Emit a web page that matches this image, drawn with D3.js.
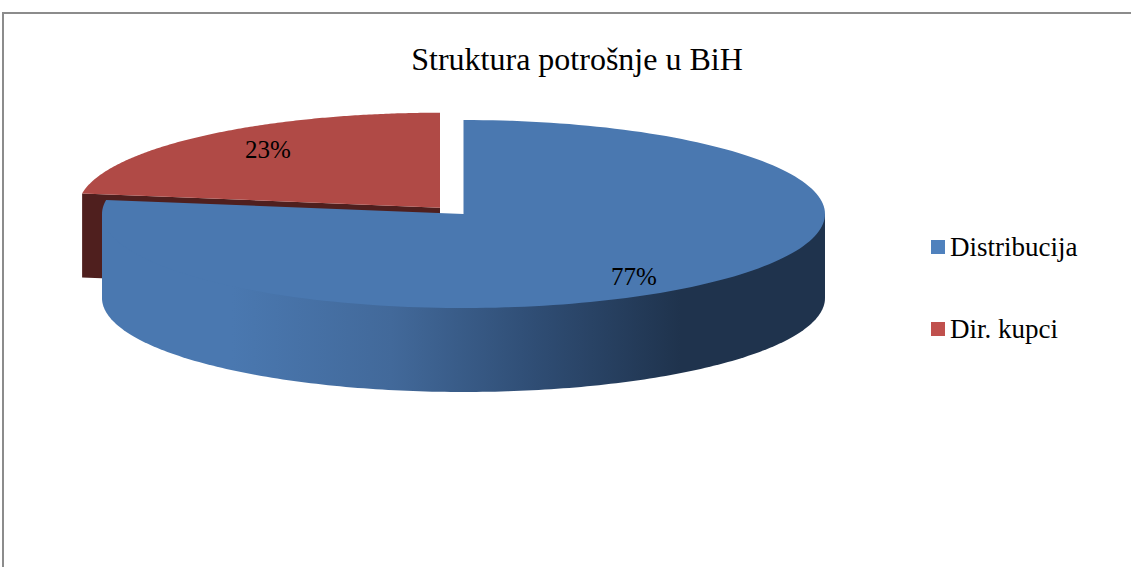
<!DOCTYPE html>
<html><head><meta charset="utf-8">
<script src="https://cdn.jsdelivr.net/npm/d3@7"></script>
<style>html,body{margin:0;padding:0;background:#fff}svg{display:block}text{font-family:"Liberation Serif","Times New Roman",serif;fill:#000}</style>
</head><body>
<script>
const title = "Struktura potrošnje u BiH";
const categories = ["Distribucija", "Dir. kupci"];
const shares = [77.4, 22.6];
const labels = ["77%", "23%"];
const topColors = ["#4a78b0", "#b04a46"];
const legendColors = ["#4f81bd", "#c0504d"];

const W = 1131, H = 567;
const svg = d3.select("body").append("svg").attr("width", W).attr("height", H);

// frame
svg.append("path").attr("d", d3.line()([[3,567],[3,13],[1131,13]]))
  .attr("fill","none").attr("stroke","#8c8c8c").attr("stroke-width",2);

const defs = svg.append("defs");
const grad = defs.append("linearGradient").attr("id","side").attr("gradientUnits","userSpaceOnUse")
  .attr("x1",102).attr("x2",825).attr("y1",0).attr("y2",0);
[[0,"#4a78b0"],[0.18,"#4a78b0"],[0.4,"#42699a"],[0.6,"#2f4d74"],[0.8,"#1f334d"],[1,"#1f334d"]]
  .forEach(s=>grad.append("stop").attr("offset",s[0]).attr("stop-color",s[1]));

const pie = d3.pie().sort(null).value(d=>d);
const arcs = pie(shares);

const rx = [361.5, 362], ry = [94, 95], depth = 84;
const xS = d3.scaleLinear().domain([-1,1]);
const yS = d3.scaleLinear().domain([-1,1]);
const centers = [[463.5,214],[440,207.7]];
function project(i, a, dz=0){
  xS.range([centers[i][0]-rx[i], centers[i][0]+rx[i]]);
  yS.range([centers[i][1]-ry[i], centers[i][1]+ry[i]]);
  return [xS(Math.sin(a)), yS(-Math.cos(a))+dz];
}
function rim(i,a0,a1,dz=0){
  const n = 180;
  return d3.range(n+1).map(k=>project(i,a0+(a1-a0)*k/n,dz));
}
const line = d3.line();

// red slice (behind)
{
  const a = arcs[1], i = 1;
  const c0 = centers[i];
  const L = project(i,a.startAngle);
  svg.append("path").attr("fill","#4f1f1e")
    .attr("d", line([c0,L,[L[0],L[1]+depth],[c0[0],c0[1]+depth]])+"Z");
  svg.append("path").attr("fill",topColors[1])
    .attr("d", line([c0,...rim(i,a.startAngle,a.endAngle)])+"Z");
}
// blue slice: the wall runs up under the top face, so no seam shows along the rim
{
  const a = arcs[0], i = 0;
  const c0 = centers[i];
  const sidePts = [c0, project(i,Math.PI/2), ...rim(i,Math.PI/2,Math.PI*1.5,depth), project(i,Math.PI*1.5)];
  svg.append("path").attr("fill","url(#side)").attr("d", line(sidePts)+"Z");
  svg.append("path").attr("fill",topColors[0])
    .attr("d", line([c0,...rim(i,a.startAngle,a.endAngle)])+"Z");
}

// labels
svg.append("text").attr("x",577).attr("y",70).attr("text-anchor","middle").attr("font-size",32).text(title);
svg.append("text").attr("x",634).attr("y",285).attr("text-anchor","middle").attr("font-size",25).text(labels[0]);
svg.append("text").attr("x",268).attr("y",158).attr("text-anchor","middle").attr("font-size",25).text(labels[1]);

// legend
const legendY = d3.scalePoint().domain(categories).range([248,330]);
categories.forEach((c,i)=>{
  const y = legendY(c);
  svg.append("rect").attr("x",931).attr("y",y-8).attr("width",14).attr("height",14).attr("fill",legendColors[i]);
  svg.append("text").attr("x",950).attr("y",y+8).attr("font-size",27).text(c);
});
</script>
</body></html>
